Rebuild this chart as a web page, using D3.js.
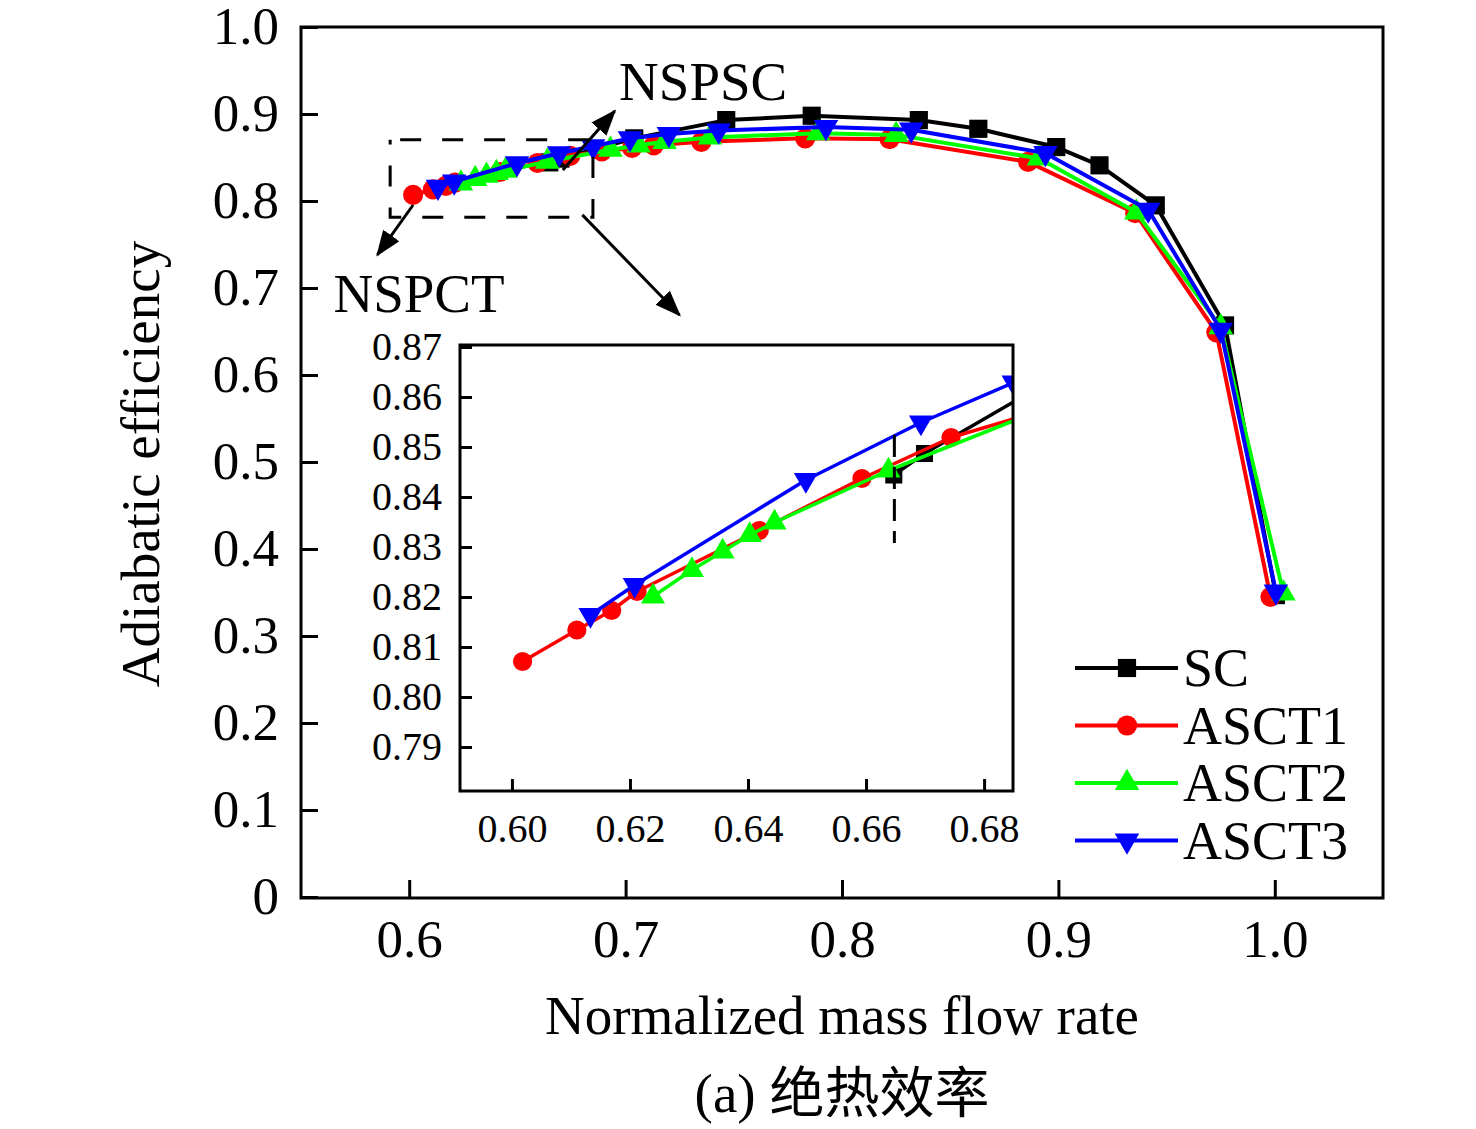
<!DOCTYPE html>
<html><head><meta charset="utf-8">
<script src="https://cdn.jsdelivr.net/npm/d3@7/dist/d3.min.js"></script>
<style>
body{margin:0;background:#fff}
svg text{font-family:"Liberation Serif","Times New Roman","Noto Sans CJK SC",serif;fill:#000}
</style>
</head><body>
<svg id="chart" width="1476" height="1129"></svg>
<script>
// ---------- data ----------
const seriesNames = ["SC", "ASCT1", "ASCT2", "ASCT3"];
const seriesColors = ["#000000", "#ff0000", "#00ff00", "#0000ff"];

const scFlow = [0.6647, 0.6699, 0.704, 0.7465, 0.786, 0.8355, 0.863, 0.899, 0.919, 0.945, 0.977, 1.0005];
const scEff  = [0.8444, 0.8487, 0.872, 0.893, 0.898, 0.893, 0.883, 0.862, 0.841, 0.795, 0.657, 0.347];

const asct1Flow = [0.6018, 0.6110, 0.6169, 0.6212, 0.6419, 0.6593, 0.6744, 0.689, 0.703, 0.713, 0.735, 0.783, 0.822, 0.886, 0.9355, 0.973, 0.998];
const asct1Eff  = [0.8071, 0.8134, 0.8173, 0.8211, 0.8333, 0.8437, 0.8519, 0.857, 0.861, 0.864, 0.868, 0.872, 0.871, 0.845, 0.786, 0.649, 0.345];

const asct2Flow = [0.6239, 0.6305, 0.6357, 0.6403, 0.6445, 0.6638, 0.693, 0.706, 0.718, 0.739, 0.789, 0.825, 0.891, 0.936, 0.975, 1.004];
const asct2Eff  = [0.8201, 0.8254, 0.8291, 0.8324, 0.8349, 0.8453, 0.859, 0.864, 0.868, 0.873, 0.878, 0.876, 0.849, 0.787, 0.655, 0.349];

const asct3Flow = [0.6133, 0.6208, 0.6498, 0.6693, 0.685, 0.702, 0.720, 0.743, 0.7926, 0.832, 0.894, 0.9415, 0.975, 1.0005];
const asct3Eff  = [0.8164, 0.8224, 0.8434, 0.8549, 0.8629, 0.872, 0.877, 0.881, 0.885, 0.882, 0.855, 0.790, 0.652, 0.351];

const xTicks = [0.6, 0.7, 0.8, 0.9, 1.0];
const yTicks = [0, 0.1, 0.2, 0.3, 0.4, 0.5, 0.6, 0.7, 0.8, 0.9, 1.0];
const insetXTicks = [0.60, 0.62, 0.64, 0.66, 0.68];
const insetYTicks = [0.79, 0.80, 0.81, 0.82, 0.83, 0.84, 0.85, 0.86, 0.87];

const mainXDomain = [0.55, 1.05];
const mainYDomain = [0, 1.0];
const insetXDomain = [0.5912, 0.6849];
const insetYDomain = [0.7812, 0.8704];

// annotations (data coordinates)
const nspscArrow = [[0.671, 0.8356], [0.695, 0.9034]];
const nspctArrow = [[0.6018, 0.7954], [0.5853, 0.738]];
const zoomArrow  = [[0.680, 0.784], [0.7249, 0.669]];
const nspscLabel = {text: "NSPSC", x: 0.697, y: 0.916};
const nspctLabel = {text: "NSPCT", x: 0.565, y: 0.672};
const stallLineX = 0.6648;
const stallLineY = [0.8308, 0.8524];

const xTitle = "Normalized mass flow rate";
const yTitle = "Adiabatic efficiency";
const caption = "(a) 绝热效率";

// ---------- build ----------
const flows = [scFlow, asct1Flow, asct2Flow, asct3Flow];
const effs = [scEff, asct1Eff, asct2Eff, asct3Eff];
const series = seriesNames.map((name, i) => ({
  name, color: seriesColors[i], idx: i,
  values: flows[i].map((f, j) => ({x: f, y: effs[i][j]}))
}));

const svg = d3.select("#chart");
const defs = svg.append("defs");
defs.append("marker").attr("id", "arrow")
  .attr("viewBox", "0 0 26 20").attr("refX", 24).attr("refY", 10)
  .attr("markerWidth", 26).attr("markerHeight", 20)
  .attr("markerUnits", "userSpaceOnUse").attr("orient", "auto")
  .append("path").attr("d", "M0,0 L26,10 L0,20 Z").attr("fill", "#000");

function symbolFor(i, size) {
  const types = [d3.symbolSquare, d3.symbolCircle, d3.symbolTriangle, d3.symbolTriangle];
  return d3.symbol().type(types[i]).size(size)();
}
function markerTransform(i, px, py) {
  return i === 3 ? `translate(${px},${py}) rotate(180)` : `translate(${px},${py})`;
}
const mainSizes = [330, 320, 260, 260];
const insetSizes = [290, 290, 250, 250];

// ---------- main plot ----------
const L = 301, R = 1383, T = 27, B = 897;
const x = d3.scaleLinear().domain(mainXDomain).range([L, R]);
const y = d3.scaleLinear().domain(mainYDomain).range([B, T]);

const gx = svg.append("g").attr("transform", `translate(0,${B})`)
  .call(d3.axisBottom(x).tickValues(xTicks).tickSize(-17).tickPadding(22).tickFormat(d3.format(".1f")));
gx.select(".domain").remove();
gx.selectAll(".tick line").attr("stroke", "#000").attr("stroke-width", 3);
gx.selectAll(".tick text").attr("font-size", 53).attr("font-family", "Liberation Serif");

const gy = svg.append("g").attr("transform", `translate(${L},0)`)
  .call(d3.axisLeft(y).tickValues(yTicks).tickSize(-17).tickPadding(22).tickFormat(d => d === 0 ? "0" : d3.format(".1f")(d)));
gy.select(".domain").remove();
gy.selectAll(".tick line").attr("stroke", "#000").attr("stroke-width", 3);
gy.selectAll(".tick text").attr("font-size", 53).attr("font-family", "Liberation Serif");

svg.append("rect").attr("x", L).attr("y", T).attr("width", R - L).attr("height", B - T + 1)
  .attr("fill", "none").attr("stroke", "#000").attr("stroke-width", 3);

const line = d3.line().x(d => x(d.x)).y(d => y(d.y));
series.forEach(s => {
  const g = svg.append("g");
  g.append("path").attr("d", line(s.values)).attr("fill", "none")
    .attr("stroke", s.color).attr("stroke-width", 4).attr("stroke-linejoin", "round");
  g.selectAll("path.m").data(s.values).join("path").attr("class", "m")
    .attr("d", symbolFor(s.idx, mainSizes[s.idx]))
    .attr("transform", d => markerTransform(s.idx, x(d.x), y(d.y)))
    .attr("fill", s.color);
});

// dashed zoom box
svg.append("rect")
  .attr("x", x(insetXDomain[0])).attr("y", y(insetYDomain[1]))
  .attr("width", x(insetXDomain[1]) - x(insetXDomain[0]))
  .attr("height", y(insetYDomain[0]) - y(insetYDomain[1]))
  .attr("fill", "none").attr("stroke", "#000").attr("stroke-width", 3)
  .attr("stroke-dasharray", "21,21").attr("stroke-dashoffset", -10);

// arrows
[nspscArrow, nspctArrow, zoomArrow].forEach(a => {
  svg.append("line")
    .attr("x1", x(a[0][0])).attr("y1", y(a[0][1]))
    .attr("x2", x(a[1][0])).attr("y2", y(a[1][1]))
    .attr("stroke", "#000").attr("stroke-width", 3)
    .attr("marker-end", "url(#arrow)");
});
[nspscLabel, nspctLabel].forEach(l => {
  svg.append("text").attr("x", x(l.x)).attr("y", y(l.y)).attr("font-size", 55).text(l.text);
});

// axis titles
svg.append("text").attr("x", 842).attr("y", 1034).attr("text-anchor", "middle")
  .attr("font-size", 55).text(xTitle);
svg.append("text").attr("transform", `translate(159,464) rotate(-90)`)
  .attr("text-anchor", "middle").attr("font-size", 55).text(yTitle);
svg.append("text").attr("x", 842).attr("y", 1112).attr("text-anchor", "middle")
  .attr("font-size", 55).text(caption);

// legend
const legend = svg.append("g");
series.forEach((s, i) => {
  const ly = 668 + i * 57.5;
  legend.append("line").attr("x1", 1075).attr("x2", 1178).attr("y1", ly).attr("y2", ly)
    .attr("stroke", s.color).attr("stroke-width", 4);
  legend.append("path").attr("d", symbolFor(i, mainSizes[i]))
    .attr("transform", markerTransform(i, 1127, ly)).attr("fill", s.color);
  legend.append("text").attr("x", 1183).attr("y", ly + 18).attr("font-size", 54).text(s.name);
});

// ---------- inset ----------
const iL = 460, iR = 1013, iT = 345, iB = 791;
const ix = d3.scaleLinear().domain(insetXDomain).range([iL, iR]);
const iy = d3.scaleLinear().domain(insetYDomain).range([iB, iT]);
const inset = svg.append("g");
inset.append("rect").attr("x", iL).attr("y", iT).attr("width", iR - iL).attr("height", iB - iT)
  .attr("fill", "#fff");
defs.append("clipPath").attr("id", "iclip").append("rect")
  .attr("x", iL).attr("y", iT).attr("width", iR - iL).attr("height", iB - iT);

const igx = inset.append("g").attr("transform", `translate(0,${iB})`)
  .call(d3.axisBottom(ix).tickValues(insetXTicks).tickSize(-12).tickPadding(23).tickFormat(d3.format(".2f")));
igx.select(".domain").remove();
igx.selectAll(".tick line").attr("stroke", "#000").attr("stroke-width", 3);
igx.selectAll(".tick text").attr("font-size", 40).attr("font-family", "Liberation Serif");
const igy = inset.append("g").attr("transform", `translate(${iL},0)`)
  .call(d3.axisLeft(iy).tickValues(insetYTicks).tickSize(-12).tickPadding(18).tickFormat(d3.format(".2f")));
igy.select(".domain").remove();
igy.selectAll(".tick line").attr("stroke", "#000").attr("stroke-width", 3);
igy.selectAll(".tick text").attr("font-size", 40).attr("font-family", "Liberation Serif");

const plotArea = inset.append("g").attr("clip-path", "url(#iclip)");
const iline = d3.line().x(d => ix(d.x)).y(d => iy(d.y));
series.forEach(s => {
  const g = plotArea.append("g");
  g.append("path").attr("d", iline(s.values)).attr("fill", "none")
    .attr("stroke", s.color).attr("stroke-width", 3.5).attr("stroke-linejoin", "round");
  g.selectAll("path.m").data(s.values).join("path").attr("class", "m")
    .attr("d", symbolFor(s.idx, insetSizes[s.idx]))
    .attr("transform", d => markerTransform(s.idx, ix(d.x), iy(d.y)))
    .attr("fill", s.color);
});
plotArea.append("line")
  .attr("x1", ix(stallLineX)).attr("x2", ix(stallLineX))
  .attr("y1", iy(stallLineY[1])).attr("y2", iy(stallLineY[0]))
  .attr("stroke", "#000").attr("stroke-width", 3).attr("stroke-dasharray", "22,10");

inset.append("rect").attr("x", iL).attr("y", iT).attr("width", iR - iL).attr("height", iB - iT)
  .attr("fill", "none").attr("stroke", "#000").attr("stroke-width", 3);
</script>
</body></html>
